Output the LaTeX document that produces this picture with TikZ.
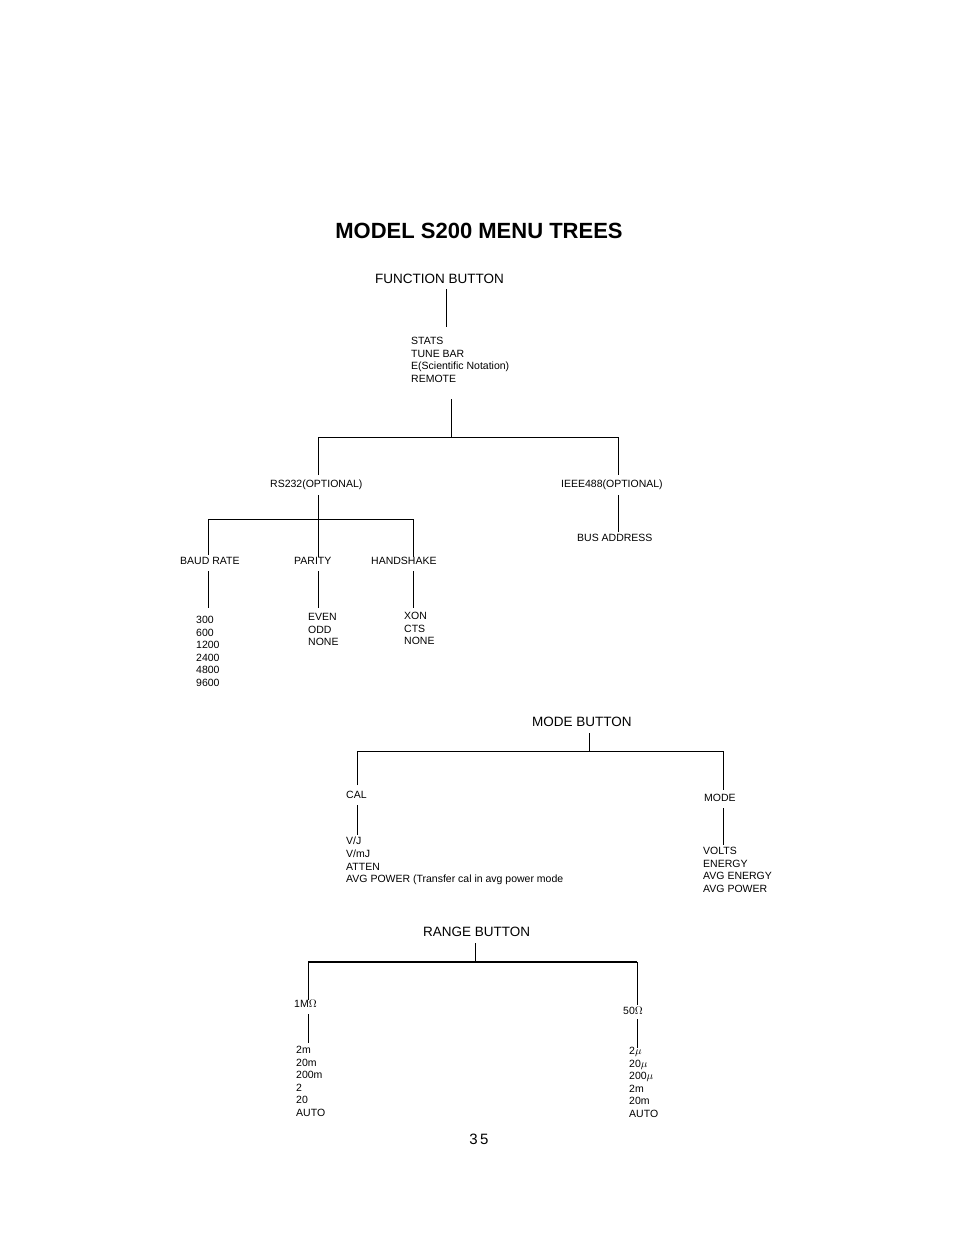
\documentclass[tikz,border=0pt]{standalone}
\usepackage{fontspec}
\setmainfont{Liberation Sans}
\usetikzlibrary{positioning}
\tikzset{
	item/.style={anchor=west,inner sep=0pt,font=\fontsize{10.5}{12.6}\selectfont,align=left},
	head/.style={anchor=west,inner sep=0pt,font=\fontsize{13.5}{15}\selectfont},
	branch/.style={line width=1pt}
}
\begin{document}
\begin{tikzpicture}[x=1pt,y=-1pt]
	\useasboundingbox (0,0) rectangle (954,1235);
	\node[inner sep=0pt,font=\fontsize{22}{24}\selectfont\bfseries] (title) at (479,231) {MODEL S200 MENU TREES};
	% function button
	\node[head] (fb) at (375,279) {FUNCTION BUTTON};
	\node[item,anchor=north west] (stats) at (411,337) {STATS\\TUNE BAR\\E(Scientific Notation)\\REMOTE};
	\draw[branch] (446,289) -- (446,327);
	\draw[branch] (451,399) -- (451,437);
	\draw[branch] (318,475) -- (318,437) -- (618,437) -- (618,475);
	\node[item] (rs) at (270,485) {RS232(OPTIONAL)};
	\node[item] (ieee) at (561,485) {IEEE488(OPTIONAL)};
	\node[item] (bus) at (577,538) {BUS ADDRESS};
	\draw[branch] (618,495) -- (618,532);
	\draw[branch] (318,495) -- (318,557);
	\draw[branch] (208,555) -- (208,519) -- (413,519) -- (413,557);
	\node[item] (baud) at (180,561) {BAUD RATE};
	\node[item] (parity) at (294,561) {PARITY};
	\node[item] (hand) at (371,561) {HANDSHAKE};
	\foreach \x in {208,318,413} \draw[branch] (\x,571) -- (\x,608);
	\node[item,anchor=north west] (rates) at (196,616) {300\\600\\1200\\2400\\4800\\9600};
	\node[item,anchor=north west] (par) at (308,613) {EVEN\\ODD\\NONE};
	\node[item,anchor=north west] (hs) at (404,612) {XON\\CTS\\NONE};
	% mode button
	\node[head] (mb) at (532,722) {MODE BUTTON};
	\draw[branch] (589,733) -- (589,751);
	\draw[branch] (357,785) -- (357,751) -- (723,751) -- (723,790);
	\node[item] (cal) at (346,795) {CAL};
	\node[item] (mode) at (704,798) {MODE};
	\draw[branch] (357,805) -- (357,835);
	\draw[branch] (723,808) -- (723,845);
	\node[item,anchor=north west] (calset) at (346,837) {V/J\\V/mJ\\ATTEN\\AVG POWER (Transfer cal in avg power mode};
	\node[item,anchor=north west] (modeset) at (703,847) {VOLTS\\ENERGY\\AVG ENERGY\\AVG POWER};
	% range button
	\node[head] (rb) at (423,932) {RANGE BUTTON};
	\draw[branch] (475,943) -- (475,962);
	\draw[branch] (308,1000) -- (308,962);
	\draw[branch] (637,1005) -- (637,962);
	\draw[line width=1.8pt] (308,962) -- (637,962);
	\node[item] (meg) at (294,1004) {1M$\Omega$};
	\node[item] (fifty) at (623,1011) {50$\Omega$};
	\draw[branch] (308,1014) -- (308,1043);
	\draw[branch] (637,1019) -- (637,1048);
	\node[item,anchor=north west] (megset) at (296,1046) {2m\\20m\\200m\\2\\20\\AUTO};
	\node[item,anchor=north west] (fiftyset) at (629,1047) {2$\mu$\\20$\mu$\\200$\mu$\\2m\\20m\\AUTO};
	\node[inner sep=0pt,font=\fontsize{15}{17}\selectfont] (page) at (479,1139) {3\,5};
\end{tikzpicture}
\end{document}
